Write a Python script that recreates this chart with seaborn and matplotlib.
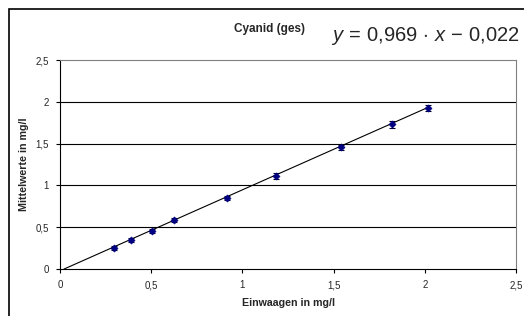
import numpy as np
import pandas as pd
import seaborn as sns
import matplotlib
matplotlib.use("Agg")
import matplotlib.pyplot as plt
from matplotlib.patches import Rectangle

# data
einwaagen = [0.296, 0.387, 0.504, 0.627, 0.917, 1.184, 1.540, 1.818, 2.018]
mittelwerte = [0.255, 0.347, 0.458, 0.586, 0.849, 1.116, 1.456, 1.730, 1.926]
fehler = [0.025, 0.025, 0.025, 0.025, 0.025, 0.035, 0.03, 0.04, 0.035]
slope = 0.969
intercept = -0.022
x_ticks = [0, 0.5, 1, 1.5, 2, 2.5]
tick_labels = ["0", "0,5", "1", "1,5", "2", "2,5"]

sns.set_style("white")
plt.rcParams['font.family'] = ['Liberation Sans', 'DejaVu Sans']
plt.rcParams['mathtext.fontset'] = 'custom'
plt.rcParams['mathtext.rm'] = 'Liberation Sans'
plt.rcParams['mathtext.it'] = 'Liberation Sans:italic'

df = pd.DataFrame({"x": einwaagen, "y": mittelwerte, "err": fehler})

fig = plt.figure(figsize=(5.24, 3.16), dpi=100)
fig.patches.append(Rectangle((9 / 524, -0.1), 1.1, 1 - 9 / 316 + 0.1,
                             transform=fig.transFigure, fill=False,
                             edgecolor='black', linewidth=1.2))
ax = fig.add_axes([60 / 524, (316 - 269) / 316, 456 / 524, 209 / 316])

x0 = -intercept / slope
xl = np.array([x0, max(einwaagen)])
sns.lineplot(x=xl, y=slope * xl + intercept, ax=ax, color='black', linewidth=0.8)

ax.errorbar(df["x"], df["y"], yerr=df["err"], fmt='none', ecolor='#000033',
            elinewidth=0.8, capsize=2.5, capthick=0.8, zorder=3)
sns.scatterplot(data=df, x="x", y="y", ax=ax, marker='D', s=14, color='#000080',
                edgecolor='#000080', zorder=4)

ax.set_xlim(0, 2.5)
ax.set_ylim(0, 2.5)
ax.set_xticks(x_ticks)
ax.set_xticklabels(tick_labels)
ax.set_yticks(x_ticks)
ax.set_yticklabels(tick_labels)
ax.tick_params(labelsize=7, length=3, direction='out', width=0.8,
               bottom=True, left=True, color='black', pad=5)
for v in [0.5, 1, 1.5, 2]:
    ax.axhline(v, color='black', linewidth=0.8, zorder=0)

for side in ['top', 'right']:
    ax.spines[side].set_color('#808080')
    ax.spines[side].set_linewidth(0.8)
for side in ['left', 'bottom']:
    ax.spines[side].set_color('black')
    ax.spines[side].set_linewidth(0.8)

ax.set_xlabel("Einwaagen in mg/l", fontsize=7.7, fontweight='bold', labelpad=6)
ax.set_ylabel("Mittelwerte in mg/l", fontsize=7.7, fontweight='bold', labelpad=5)

fig.text(270 / 524, 1 - 29 / 316, "Cyanid (ges)", fontsize=8.5, fontweight='bold',
         ha='center', va='center')
fig.text(520 / 524, 1 - 36 / 316,
         r"$y\, =\, 0{,}969\, \cdot\, x\, -\, 0{,}022$",
         fontsize=14.5, ha='right', va='center')

fig.savefig("out.png", dpi=100)
